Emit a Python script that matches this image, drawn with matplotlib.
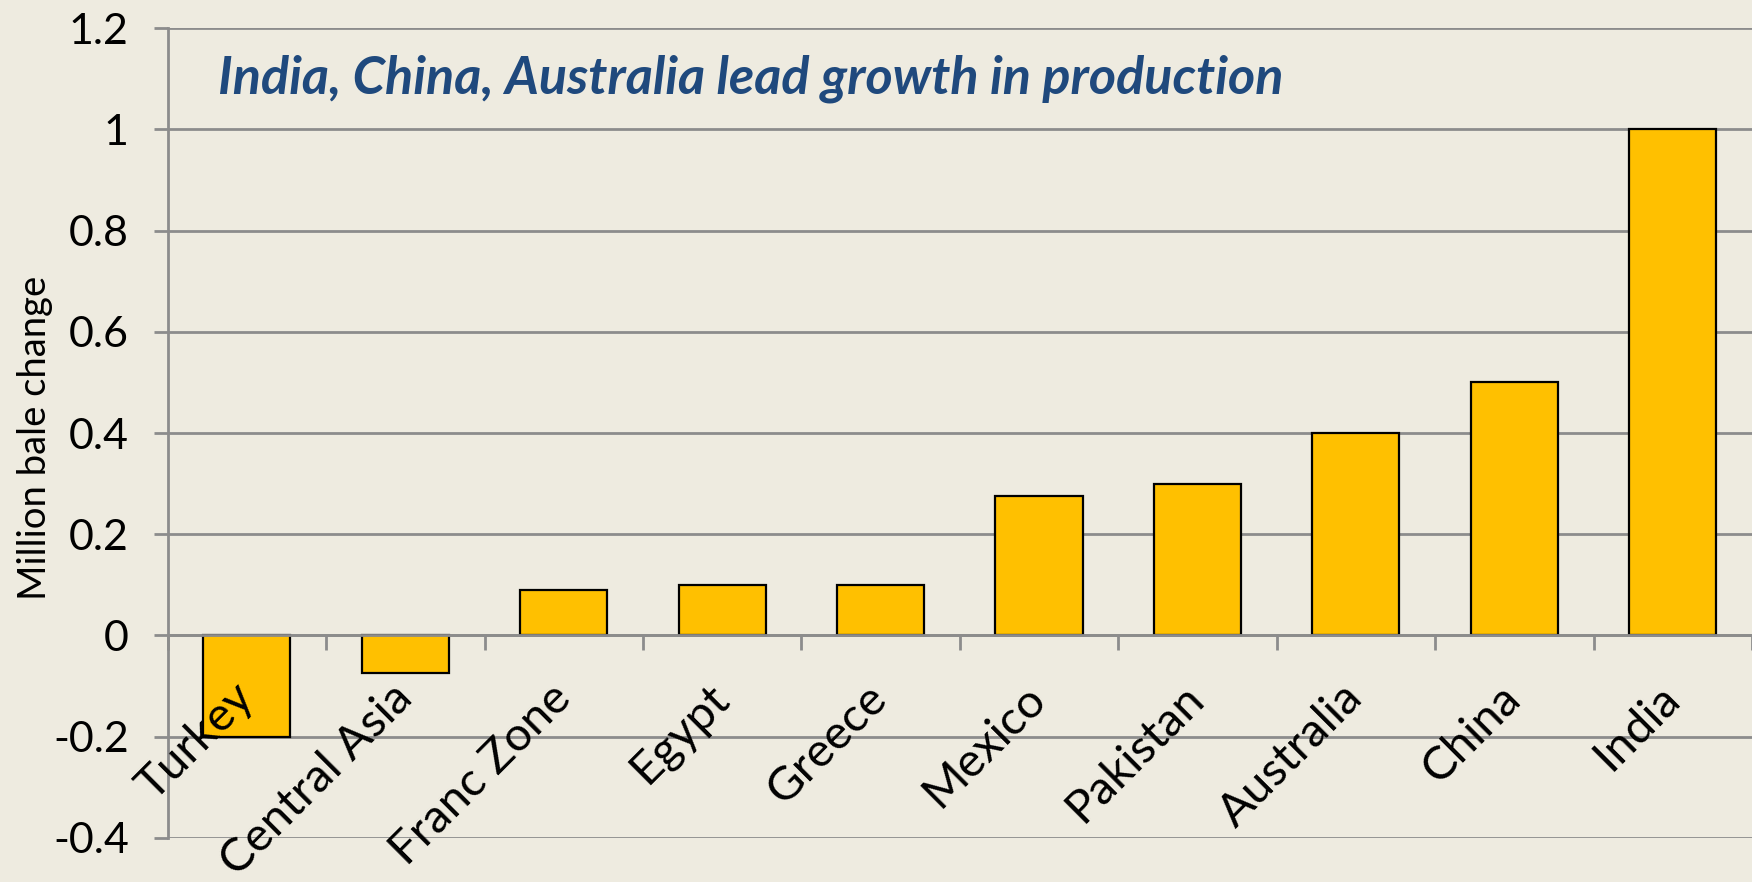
import matplotlib.pyplot as plt
from matplotlib.ticker import FixedLocator, FuncFormatter

# data
regions = ["Turkey", "Central Asia", "Franc Zone", "Egypt", "Greece",
           "Mexico", "Pakistan", "Australia", "China", "India"]
change = [-0.2, -0.075, 0.09, 0.1, 0.1, 0.275, 0.3, 0.4, 0.5, 1.0]
yticks = [-0.4, -0.2, 0, 0.2, 0.4, 0.6, 0.8, 1.0, 1.2]

bg = "#EEEBE0"
grid_col = "#8C8C8C"
plt.rcParams['font.family'] = ['Lato', 'DejaVu Sans']

fig = plt.figure(figsize=(17.52, 8.82), dpi=100, facecolor=bg)
ax = fig.add_axes([0.0957, 0.05, 0.9043, 0.918])
ax.set_facecolor(bg)

x = list(range(len(regions)))
ax.bar(x, change, width=0.55, color="#FFC000", edgecolor="black",
       linewidth=1.6, zorder=3)

ax.set_xlim(-0.5, len(regions) - 0.5)
ax.set_ylim(-0.4, 1.2)
ax.set_yticks(yticks)
ax.yaxis.set_major_formatter(FuncFormatter(lambda v, p: "%g" % round(v, 1)))
ax.grid(axis="y", color=grid_col, linewidth=2)
ax.yaxis.set_zorder(0.5)
ax.xaxis.set_zorder(5)   # category labels drawn over the bars

for s in ["top", "right"]:
    ax.spines[s].set_visible(False)
ax.spines["left"].set_color(grid_col)
ax.spines["left"].set_linewidth(2)
ax.spines["bottom"].set_position(("data", 0))
ax.spines["bottom"].set_color(grid_col)
ax.spines["bottom"].set_linewidth(2)
ax.spines["bottom"].set_zorder(4)

ax.tick_params(axis="y", length=10, width=2, color=grid_col, labelsize=31, pad=18)
ax.set_xticks(x)
ax.set_xticklabels(regions, rotation=45, ha="right", va="center",
                   rotation_mode="anchor")
ax.tick_params(axis="x", which="major", length=0, labelsize=34, pad=40)
ax.xaxis.set_minor_locator(FixedLocator([i - 0.5 for i in range(len(regions) + 1)]))
ax.tick_params(axis="x", which="minor", length=11, width=2, color=grid_col,
               direction="out")
for lbl in ax.get_xticklabels():
    lbl.set_x(lbl.get_position()[0] + 0.04)

ax.text(0.032, 0.937, "India, China, Australia lead growth in production",
        transform=ax.transAxes, fontsize=37.5, fontweight="bold", style="italic",
        color="#1F497D", va="center", ha="left")

fig.text(0.02, 0.503, "Million bale change", rotation=90, fontsize=27.5,
         va="center", ha="center")

fig.savefig("out.png", dpi=100, facecolor=bg)
